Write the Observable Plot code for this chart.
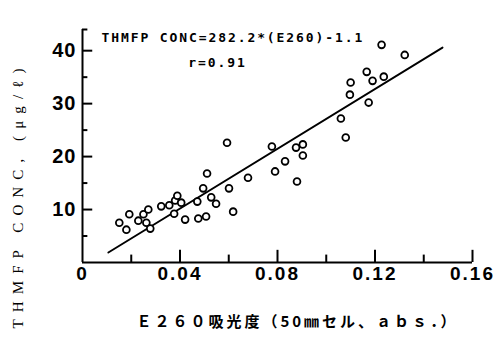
<!DOCTYPE html>
<html><head><meta charset="utf-8">
<script src="https://cdn.jsdelivr.net/npm/d3@7"></script>
<script src="https://cdn.jsdelivr.net/npm/@observablehq/plot@0.6"></script>
<style>
body{margin:0;background:#fff;}
svg{background:#fff;}
</style></head><body><div id="chart"></div>
<script>
// Data
const e260 = [0.0151,0.0180,0.0192,0.0229,0.0250,0.0270,0.0262,0.0278,0.0323,0.0356,
  0.0380,0.0389,0.0405,0.0376,0.0421,0.0475,0.0507,0.0471,0.0495,0.0528,
  0.0548,0.0511,0.0593,0.0601,0.0618,0.0679,0.0777,0.0790,0.0831,0.0876,
  0.0904,0.0904,0.0880,0.1060,0.1080,0.1097,0.1100,0.1166,0.1190,0.1174,
  0.1236,0.1227,0.1322];
const thmfp = [7.5,6.2,9.1,7.9,9.1,10.0,7.5,6.4,10.6,10.8,
  11.7,12.6,11.3,9.2,8.1,8.3,8.7,11.5,14.0,12.3,
  11.1,16.8,22.6,14.0,9.6,16.0,21.9,17.2,19.1,21.7,
  22.3,20.2,15.3,27.2,23.6,31.7,34.0,36.0,34.3,30.2,
  35.1,41.1,39.2];
const xTicks = [0, 0.04, 0.08, 0.12, 0.16];
const xMinor = [0.02, 0.06, 0.10, 0.14];
const yTicks = [10, 20, 30, 40];
const yMinor = [5, 15, 25, 35];
const fitSlope = 282.2;
const fitIntercept = -1.1;
const fitRange = [0.0106, 0.1477];
const equationLines = ["THMFP CONC=282.2*(E260)-1.1", "r=0.91"];
const yTitle = "THMFP CONC, (μg/ℓ)";
const xTitle = "Ｅ２６０吸光度（50㎜セル、ａｂｓ．）";

const points = e260.map((x, i) => ({x, y: thmfp[i]}));
const fitLine = fitRange.map(x => ({x, y: fitSlope * x + fitIntercept}));

const chart = Plot.plot({
  width: 494, height: 340,
  marginLeft: 82, marginRight: 22, marginTop: 29, marginBottom: 78,
  style: {fontFamily: "Liberation Sans, Arial, sans-serif", color: "black", background: "white"},
  x: {domain: [0, 0.16]},
  y: {domain: [0, 44]},
  marks: [
    Plot.ruleY([0], {x1: 0, x2: 0.16, stroke: "black", strokeWidth: 2}),
    Plot.ruleX([0], {y1: 0, y2: 44, stroke: "black", strokeWidth: 2}),
    Plot.ruleY([44], {x1: 0, x2: 0.0022, stroke: "black", strokeWidth: 2}),
    Plot.ruleX(xTicks.filter(d => d > 0), {y1: 0, y2: 2.3, stroke: "black", strokeWidth: 2}),
    Plot.ruleX(xMinor, {y1: 0, y2: 1.4, stroke: "black", strokeWidth: 2}),
    Plot.ruleY(yTicks, {x1: 0, x2: 0.0042, stroke: "black", strokeWidth: 2}),
    Plot.ruleY(yMinor, {x1: 0, x2: 0.0022, stroke: "black", strokeWidth: 2}),
    Plot.line(fitLine, {x: "x", y: "y", stroke: "black", strokeWidth: 1.9}),
    Plot.dot(points, {x: "x", y: "y", r: 3.4, stroke: "black", strokeWidth: 1.8, fill: "white"}),
    Plot.axisX({ticks: xTicks, tickSize: 0, tickPadding: 4, fontSize: 19, fontWeight: "bold", label: null,
      tickFormat: d => d === 0 ? "0" : d.toFixed(2)}),
    Plot.axisY({ticks: yTicks, tickSize: 0, tickPadding: 6, fontSize: 20, fontWeight: "bold", label: null}),
    Plot.text([equationLines[0]], {x: 0.0078, y: 42.4, text: d => d, textAnchor: "start",
      fontFamily: "DejaVu Sans Mono", fontWeight: "bold", fontSize: 13}),
    Plot.text([equationLines[1]], {x: 0.0434, y: 37.7, text: d => d, textAnchor: "start",
      fontFamily: "DejaVu Sans Mono", fontWeight: "bold", fontSize: 13}),
    Plot.text([yTitle], {frameAnchor: "bottom-left", rotate: -90, dx: -60, dy: 66, text: d => d,
      textAnchor: "start", fontFamily: "Liberation Serif", fontSize: 15}),
    Plot.text([xTitle], {frameAnchor: "bottom", dx: 20, dy: 64, text: d => d,
      fontFamily: "Noto Sans CJK JP", fontWeight: "bold", fontSize: 15})
  ]
});
// letter spacing tweaks (typographic only)
const spacing = new Map([
  [equationLines[0], "1.9px"], [equationLines[1], "1.9px"],
  [yTitle, "7.1px"], [xTitle, "3px"]
]);
chart.querySelectorAll("text").forEach(t => {
  const s = spacing.get(t.textContent);
  if (s) t.style.letterSpacing = s;
});
chart.querySelectorAll('g[aria-label="x-axis tick label"] text').forEach(t => t.style.letterSpacing = "2px");
chart.querySelectorAll('g[aria-label="y-axis tick label"] text').forEach(t => t.style.letterSpacing = "1px");
document.getElementById("chart").appendChild(chart);
</script></body></html>
